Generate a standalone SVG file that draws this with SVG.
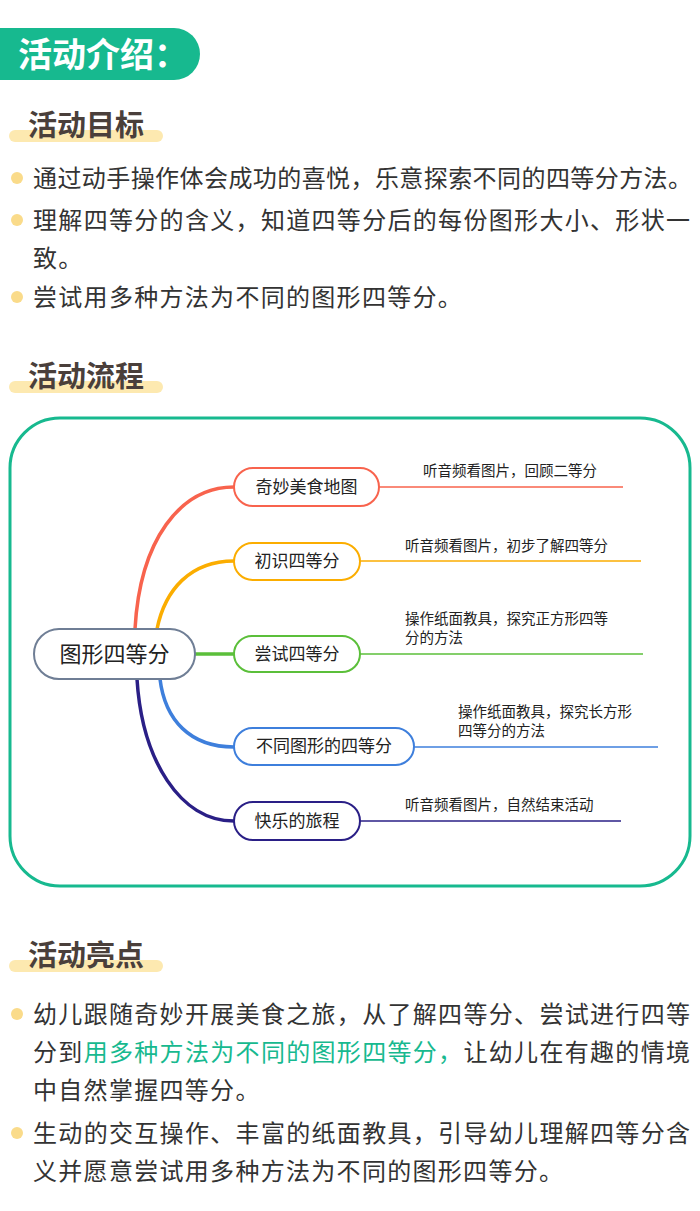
<svg xmlns="http://www.w3.org/2000/svg" width="700" height="1211" viewBox="0 0 700 1211">
<style>
.h{font-family:"Noto Sans CJK SC",sans-serif;font-weight:bold;font-size:29px;fill:#4a3f3b}
.b{font-family:"Noto Sans CJK SC",sans-serif;font-size:24px;fill:#333}
.s{letter-spacing:1.3px}
.n{font-family:"Noto Sans CJK SC",sans-serif;font-size:17px;fill:#222}
.l{font-family:"Noto Sans CJK SC",sans-serif;font-size:14.5px;fill:#222}
.bar{fill:#fde9b0}
.dot{fill:#fadb8a}
.nd{fill:#fff;stroke-width:2}
.br{fill:none;stroke-width:3.5;stroke-linecap:round}
</style>
<rect width="700" height="1211" fill="#fff"/>
<g id="header">
<path d="M0 28H174a26 26 0 0 1 0 52H0Z" fill="#17b98f"/>
<text x="18" y="67" font-family="Noto Sans CJK SC,sans-serif" font-weight="bold" font-size="34" fill="#fff">活动介绍：</text>
</g>
<g id="goals">
<rect class="bar" x="9" y="130" width="154" height="12" rx="6"/>
<text class="h" x="28" y="136">活动目标</text>
<circle class="dot" cx="17" cy="178" r="6"/><text class="b" x="33" y="187" textLength="659">通过动手操作体会成功的喜悦，乐意探索不同的四等分方法。</text>
<circle class="dot" cx="17" cy="220" r="6"/><text class="b" x="33" y="229" textLength="657">理解四等分的含义，知道四等分后的每份图形大小、形状一</text>
<text class="b s" x="33" y="267">致。</text>
<circle class="dot" cx="17" cy="297" r="6"/><text class="b s" x="33" y="306">尝试用多种方法为不同的图形四等分。</text>
</g>
<g id="flow-title">
<rect class="bar" x="9" y="381" width="154" height="12" rx="6"/>
<text class="h" x="28" y="387">活动流程</text>
</g>
<rect x="10" y="418" width="680" height="468" rx="50" fill="none" stroke="#17b98f" stroke-width="3"/>
<g id="connectors">
<path class="br" stroke="#f8634d" d="M135 629C140 540 180 487 234 487"/>
<path class="br" stroke="#fbad00" d="M157 629C165 590 190 561 234 561"/>
<path class="br" stroke="#5bbf3a" d="M195 654H234"/>
<path class="br" stroke="#3e7fdc" d="M160 679C165 720 190 747 234 747"/>
<path class="br" stroke="#2a1f86" d="M137 679C142 760 180 821 234 821"/>
<path fill="none" stroke="#f8634d" stroke-width="1.5" d="M379 487H623"/>
<path fill="none" stroke="#fbad00" stroke-width="1.5" d="M360 561H641"/>
<path fill="none" stroke="#5bbf3a" stroke-width="1.5" d="M360 654H643"/>
<path fill="none" stroke="#3e7fdc" stroke-width="1.5" d="M414 747H658"/>
<path fill="none" stroke="#2a1f86" stroke-width="1.5" d="M360 821H621"/>
</g>
<g id="root"><rect class="nd" x="34" y="629" width="161" height="50" rx="25" stroke="#6f7e95"/><text class="n" style="font-size:22px" x="114.5" y="662" text-anchor="middle">图形四等分</text></g>
<g id="n1"><rect class="nd" x="234" y="468" width="145" height="38" rx="19" stroke="#f8634d"/><text class="n" x="306.5" y="493" text-anchor="middle">奇妙美食地图</text><text class="l" x="423" y="476">听音频看图片，回顾二等分</text></g>
<g id="n2"><rect class="nd" x="234" y="543" width="126" height="37" rx="18.5" stroke="#fbad00"/><text class="n" x="297" y="567" text-anchor="middle">初识四等分</text><text class="l" x="405" y="551">听音频看图片，初步了解四等分</text></g>
<g id="n3"><rect class="nd" x="234" y="636" width="126" height="36" rx="18" stroke="#5bbf3a"/><text class="n" x="297" y="660" text-anchor="middle">尝试四等分</text><text class="l" x="405" y="624">操作纸面教具，探究正方形四等</text><text class="l" x="405" y="643">分的方法</text></g>
<g id="n4"><rect class="nd" x="234" y="728" width="180" height="37" rx="18.5" stroke="#3e7fdc"/><text class="n" x="324" y="752" text-anchor="middle">不同图形的四等分</text><text class="l" x="458" y="717">操作纸面教具，探究长方形</text><text class="l" x="458" y="736">四等分的方法</text></g>
<g id="n5"><rect class="nd" x="234" y="802" width="126" height="38" rx="19" stroke="#2a1f86"/><text class="n" x="297" y="827" text-anchor="middle">快乐的旅程</text><text class="l" x="405" y="810">听音频看图片，自然结束活动</text></g>
<g id="highlights">
<rect class="bar" x="9" y="960" width="154" height="12" rx="6"/>
<text class="h" x="28" y="966">活动亮点</text>
<circle class="dot" cx="17" cy="1014" r="6"/><text class="b" x="33" y="1023" textLength="657">幼儿跟随奇妙开展美食之旅，从了解四等分、尝试进行四等</text>
<text class="b" x="33" y="1061" textLength="657">分到<tspan fill="#17b98f">用多种方法为不同的图形四等分，</tspan>让幼儿在有趣的情境</text>
<text class="b s" x="33" y="1099">中自然掌握四等分。</text>
<circle class="dot" cx="17" cy="1133" r="6"/><text class="b" x="33" y="1142" textLength="657">生动的交互操作、丰富的纸面教具，引导幼儿理解四等分含</text>
<text class="b s" x="33" y="1180">义并愿意尝试用多种方法为不同的图形四等分。</text>
</g>
</svg>
